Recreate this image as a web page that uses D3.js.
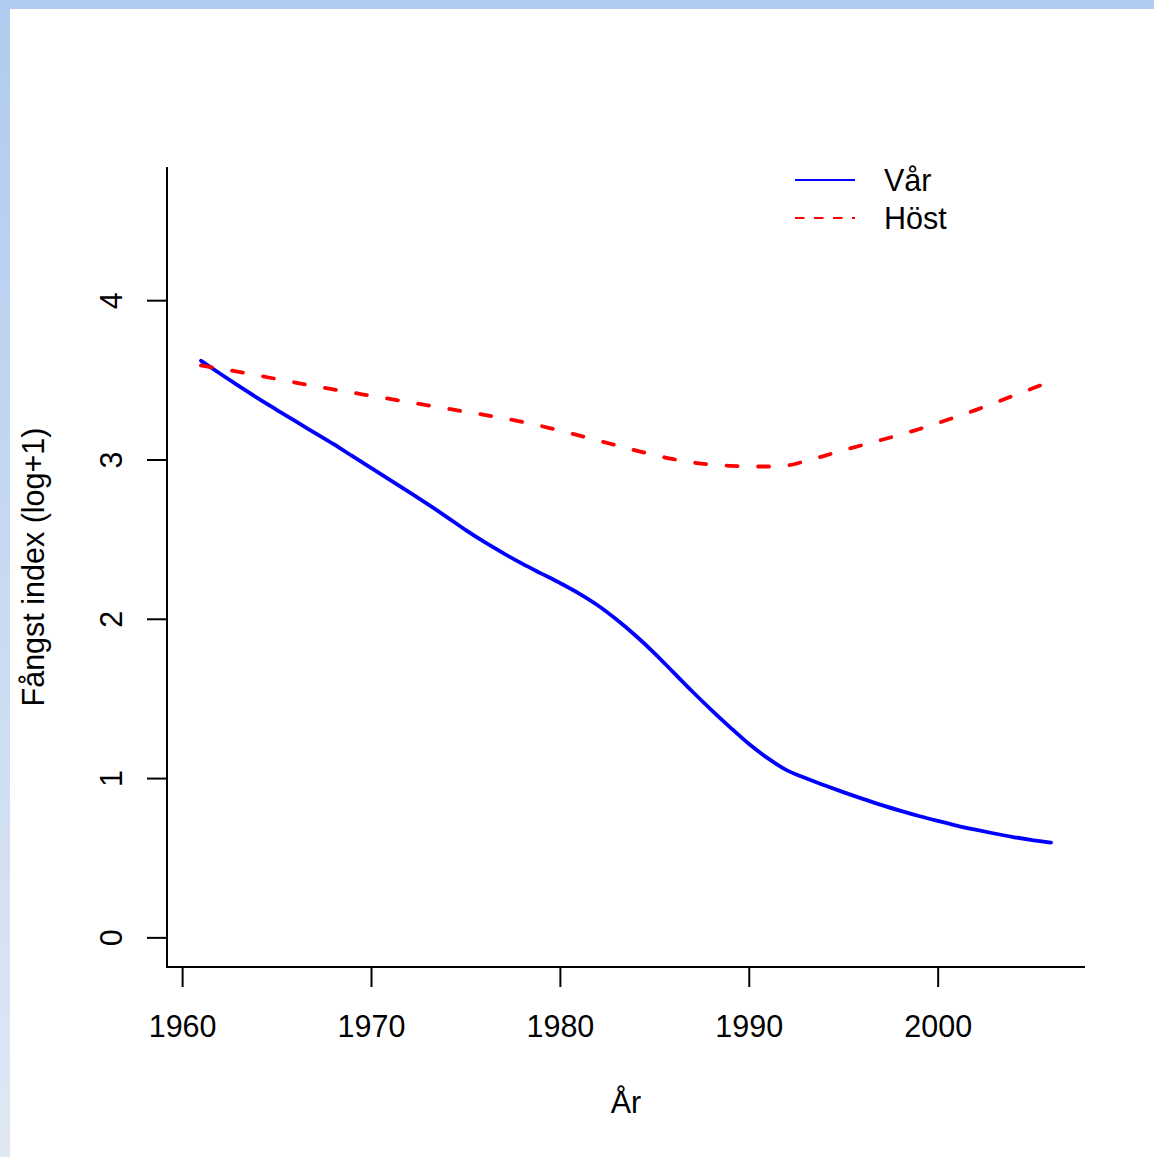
<!DOCTYPE html>
<html>
<head>
<meta charset="utf-8">
<script src="https://cdn.jsdelivr.net/npm/d3@7"></script>
<style>
  html, body { margin: 0; padding: 0; background: #fff; }
  svg { display: block; }
  text { font-family: "Liberation Sans", Arial, Helvetica, sans-serif; fill: #000; }
</style>
</head>
<body>
<script>
// ---- data ----
const years = d3.range(1961, 2007);
const var_values = [
  3.62, 3.54, 3.462, 3.385, 3.312, 3.24, 3.169, 3.098, 3.022, 2.947,
  2.872, 2.797, 2.72, 2.64, 2.558, 2.482, 2.412, 2.346, 2.285, 2.225,
  2.16, 2.085, 1.995, 1.895, 1.785, 1.665, 1.545, 1.43, 1.32, 1.215,
  1.125, 1.05, 1.00, 0.955, 0.912, 0.871, 0.832, 0.796, 0.762, 0.731,
  0.702, 0.676, 0.652, 0.63, 0.611, 0.595
];
const host_values = [
  3.59, 3.57, 3.55, 3.528, 3.505, 3.483, 3.461, 3.44, 3.42, 3.40,
  3.38, 3.36, 3.34, 3.32, 3.30, 3.28, 3.259, 3.236, 3.21, 3.181,
  3.151, 3.12, 3.088, 3.057, 3.028, 3.002, 2.982, 2.968, 2.96, 2.956,
  2.956, 2.962, 2.99, 3.023, 3.057, 3.09, 3.122, 3.155, 3.19, 3.228,
  3.268, 3.31, 3.354, 3.40, 3.445, 3.49
];
const xTicks = [1960, 1970, 1980, 1990, 2000];
const yTicks = [0, 1, 2, 3, 4];
const seriesNames = ["Vår", "Höst"];
const xTitle = "År";
const yTitle = "Fångst index (log+1)";

// ---- layout ----
const W = 1154, H = 1157;
const FS = 30.5;
const svg = d3.select("body").append("svg").attr("width", W).attr("height", H);

// decorative frame bands
const defs = svg.append("defs");
const grad = defs.append("linearGradient").attr("id", "leftBand")
  .attr("x1", 0).attr("y1", 0).attr("x2", 0).attr("y2", 1);
grad.append("stop").attr("offset", "0%").attr("stop-color", "#B0CBEF");
grad.append("stop").attr("offset", "100%").attr("stop-color", "#E0E8F4");
svg.append("rect").attr("x", 0).attr("y", 0).attr("width", 10).attr("height", H).attr("fill", "url(#leftBand)");
svg.append("rect").attr("x", 0).attr("y", 0).attr("width", W).attr("height", 9).attr("fill", "#B0CBEF");

const x = d3.scaleLinear().domain([1959.2, 2007.8]).range([167, 1085]);
const y = d3.scaleLinear().domain([-0.186, 4.836]).range([967, 167]);

// L-shaped box
svg.append("path")
  .attr("d", `M${x.range()[0]},${y.range()[1]}V${y.range()[0]}H${x.range()[1]}`)
  .attr("fill", "none").attr("stroke", "#000").attr("stroke-width", 2);

// x axis
const xAxis = d3.axisBottom(x).tickValues(xTicks).tickFormat(d3.format("d")).tickSize(20);
const gx = svg.append("g").attr("transform", `translate(0,${y.range()[0]})`).call(xAxis);
gx.select(".domain").remove();
gx.selectAll(".tick line").attr("stroke", "#000").attr("stroke-width", 2);
gx.selectAll(".tick text").attr("font-size", FS).attr("font-family", "Liberation Sans, Arial, sans-serif")
  .attr("fill", "#000").attr("dy", null).attr("y", 70);

// y axis
const yAxis = d3.axisLeft(y).tickValues(yTicks).tickFormat(d3.format("d")).tickSize(20);
const gy = svg.append("g").attr("transform", `translate(${x.range()[0]},0)`).call(yAxis);
gy.select(".domain").remove();
gy.selectAll(".tick line").attr("stroke", "#000").attr("stroke-width", 2);
gy.selectAll(".tick text")
  .attr("font-size", FS).attr("font-family", "Liberation Sans, Arial, sans-serif").attr("fill", "#000")
  .attr("x", null).attr("dy", null)
  .attr("text-anchor", "middle")
  .attr("transform", "translate(-45,0) rotate(-90)");

// titles
svg.append("text").attr("x", (x.range()[0] + x.range()[1]) / 2).attr("y", 1113)
  .attr("text-anchor", "middle").attr("font-size", FS).text(xTitle);
svg.append("text")
  .attr("transform", `translate(44,${(y.range()[0] + y.range()[1]) / 2}) rotate(-90)`)
  .attr("text-anchor", "middle").attr("font-size", FS).text(yTitle);

// lines
const line = d3.line().x((d, i) => x(years[i])).y(d => y(d)).curve(d3.curveMonotoneX);
svg.append("path").datum(var_values).attr("d", line)
  .attr("fill", "none").attr("stroke", "#0000FF").attr("stroke-width", 3.8)
  .attr("stroke-linecap", "round").attr("stroke-linejoin", "round");
svg.append("path").datum(host_values).attr("d", line)
  .attr("fill", "none").attr("stroke", "#FF0000").attr("stroke-width", 3.8)
  .attr("stroke-dasharray", "11,20.5")
  .attr("stroke-linecap", "round").attr("stroke-linejoin", "round");

// legend
const leg = svg.append("g");
const legItems = [
  { name: seriesNames[0], color: "#0000FF", dash: null, ly: 180 },
  { name: seriesNames[1], color: "#FF0000", dash: "9.5,9.5", ly: 218 }
];
legItems.forEach(it => {
  leg.append("line").attr("x1", 795).attr("x2", 855).attr("y1", it.ly).attr("y2", it.ly)
    .attr("stroke", it.color).attr("stroke-width", 2.2)
    .attr("stroke-dasharray", it.dash);
  leg.append("text").attr("x", 884).attr("y", it.ly + 11).attr("font-size", FS).text(it.name);
});
</script>
</body>
</html>
